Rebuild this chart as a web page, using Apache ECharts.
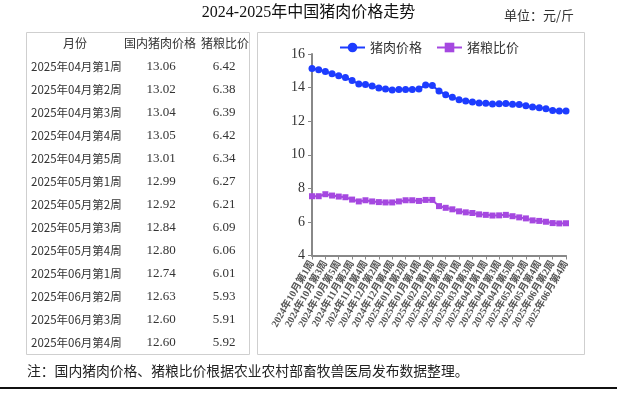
<!DOCTYPE html>
<html><head><meta charset="utf-8">
<script src="https://cdn.jsdelivr.net/npm/echarts@6/dist/echarts.min.js"></script>
<style>html,body{margin:0;padding:0;background:#fff}#c{width:617px;height:395px}</style>
</head><body><div id="c"></div>
<script>
var weeks = ["2024年10月第1周","2024年10月第2周","2024年10月第3周","2024年10月第4周","2024年10月第5周",
"2024年11月第1周","2024年11月第2周","2024年11月第3周","2024年11月第4周",
"2024年12月第1周","2024年12月第2周","2024年12月第3周","2024年12月第4周",
"2025年01月第1周","2025年01月第2周","2025年01月第3周","2025年01月第4周","2025年01月第5周",
"2025年02月第1周","2025年02月第2周","2025年02月第3周","2025年02月第4周",
"2025年03月第1周","2025年03月第2周","2025年03月第3周","2025年03月第4周",
"2025年04月第1周","2025年04月第2周","2025年04月第3周","2025年04月第4周","2025年04月第5周",
"2025年05月第1周","2025年05月第2周","2025年05月第3周","2025年05月第4周",
"2025年06月第1周","2025年06月第2周","2025年06月第3周","2025年06月第4周"];
var porkPrice = [15.14,15.06,14.96,14.82,14.70,14.60,14.42,14.22,14.18,14.10,
13.98,13.92,13.86,13.88,13.88,13.88,13.92,14.16,14.12,13.80,
13.58,13.42,13.28,13.20,13.14,13.08,
13.06,13.02,13.04,13.05,13.01,12.99,12.92,12.84,12.80,12.74,12.63,12.60,12.60];
var grainRatio = [7.53,7.53,7.65,7.57,7.51,7.47,7.33,7.22,7.29,7.22,
7.18,7.16,7.16,7.22,7.29,7.29,7.25,7.31,7.31,6.94,
6.84,6.75,6.63,6.57,6.53,6.45,
6.42,6.38,6.39,6.42,6.34,6.27,6.21,6.09,6.06,6.01,5.93,5.91,5.92];
var tableHeader = ["月份","国内猪肉价格","猪粮比价"];
var tableWeeks = ["2025年04月第1周","2025年04月第2周","2025年04月第3周","2025年04月第4周","2025年04月第5周",
"2025年05月第1周","2025年05月第2周","2025年05月第3周","2025年05月第4周",
"2025年06月第1周","2025年06月第2周","2025年06月第3周","2025年06月第4周"];
var tablePrice = ["13.06","13.02","13.04","13.05","13.01","12.99","12.92","12.84","12.80","12.74","12.63","12.60","12.60"];
var tableRatio = ["6.42","6.38","6.39","6.42","6.34","6.27","6.21","6.09","6.06","6.01","5.93","5.91","5.92"];
var yTicks = {min:4, max:16, interval:2};
var titleText = "2024-2025年中国猪肉价格走势";
var unitText = "单位：元/斤";
var noteText = "注：国内猪肉价格、猪粮比价根据农业农村部畜牧兽医局发布数据整理。";

var SANS = '"Noto Sans CJK SC", sans-serif';
var SERIF = '"Liberation Serif", "Noto Sans CJK SC", serif';

var g = [];
g.push({type:'text', left:'center', top:5, style:{text:titleText, font:'16px ' + SERIF, fill:'#111'}});
g.push({type:'text', x:504, y:9, style:{text:unitText, font:'13px ' + SANS, fill:'#333'}});
g.push({type:'rect', shape:{x:26.5, y:32.5, width:223, height:322}, style:{fill:'none', stroke:'#cfcfcf', lineWidth:1}});
g.push({type:'rect', shape:{x:257.5, y:32.5, width:327, height:322}, style:{fill:'none', stroke:'#cfcfcf', lineWidth:1}});
var colX = [75, 160, 225];
for (var i = 0; i < 3; i++) {
  g.push({type:'text', x:colX[i], y:43, style:{text:tableHeader[i], font:'12px ' + SANS, fill:'#333', align:'center', verticalAlign:'middle'}});
}
for (var r = 0; r < tableWeeks.length; r++) {
  var yy = 66.7 + r * 23;
  g.push({type:'text', x:31, y:yy, style:{text:tableWeeks[r], font:'11.5px ' + SANS, fill:'#333', align:'left', verticalAlign:'middle'}});
  g.push({type:'text', x:161, y:yy, style:{text:tablePrice[r], font:'13px ' + SERIF, fill:'#333', align:'center', verticalAlign:'middle'}});
  g.push({type:'text', x:224, y:yy, style:{text:tableRatio[r], font:'13px ' + SERIF, fill:'#333', align:'center', verticalAlign:'middle'}});
}
g.push({type:'text', x:27, y:371, style:{text:noteText, font:'13.8px ' + SANS, fill:'#222', verticalAlign:'middle'}});
g.push({type:'line', shape:{x1:0, y1:388, x2:617, y2:388}, style:{stroke:'#111', lineWidth:2}});

var chart = echarts.init(document.getElementById('c'), null, {renderer:'canvas'});
chart.setOption({
  animation:false,
  backgroundColor:'#fff',
  graphic:g,
  legend:{
    left:334, top:36, itemWidth:25, itemHeight:12, itemGap:14,
    textStyle:{fontFamily:SANS, fontSize:13, color:'#333'},
    data:['猪肉价格','猪粮比价']
  },
  grid:{left:312, right:51, top:54, bottom:139.5, containLabel:false},
  xAxis:{
    type:'category', data:weeks, boundaryGap:false,
    axisLine:{lineStyle:{color:'#888', width:2}},
    axisTick:{show:true, interval:1, length:4, lineStyle:{color:'#888'}},
    axisLabel:{interval:1, rotate:60, margin:6, fontSize:10, fontWeight:'bold', fontFamily:SERIF, color:'#555'}
  },
  yAxis:{
    type:'value', min:yTicks.min, max:yTicks.max, interval:yTicks.interval,
    splitLine:{show:false},
    axisLine:{show:true, lineStyle:{color:'#888', width:2}},
    axisTick:{show:true, length:4, lineStyle:{color:'#888'}},
    axisLabel:{margin:7, fontSize:14, fontFamily:SERIF, color:'#333'}
  },
  series:[
    {name:'猪肉价格', type:'line', data:porkPrice, symbol:'circle', symbolSize:7, showAllSymbol:true,
     itemStyle:{color:'#1d3cff'}, lineStyle:{color:'#1d3cff', width:2}},
    {name:'猪粮比价', type:'line', data:grainRatio, symbol:'rect', symbolSize:6, showAllSymbol:true,
     itemStyle:{color:'#a548e0'}, lineStyle:{color:'#a548e0', width:2}}
  ]
});
</script>
</body></html>
